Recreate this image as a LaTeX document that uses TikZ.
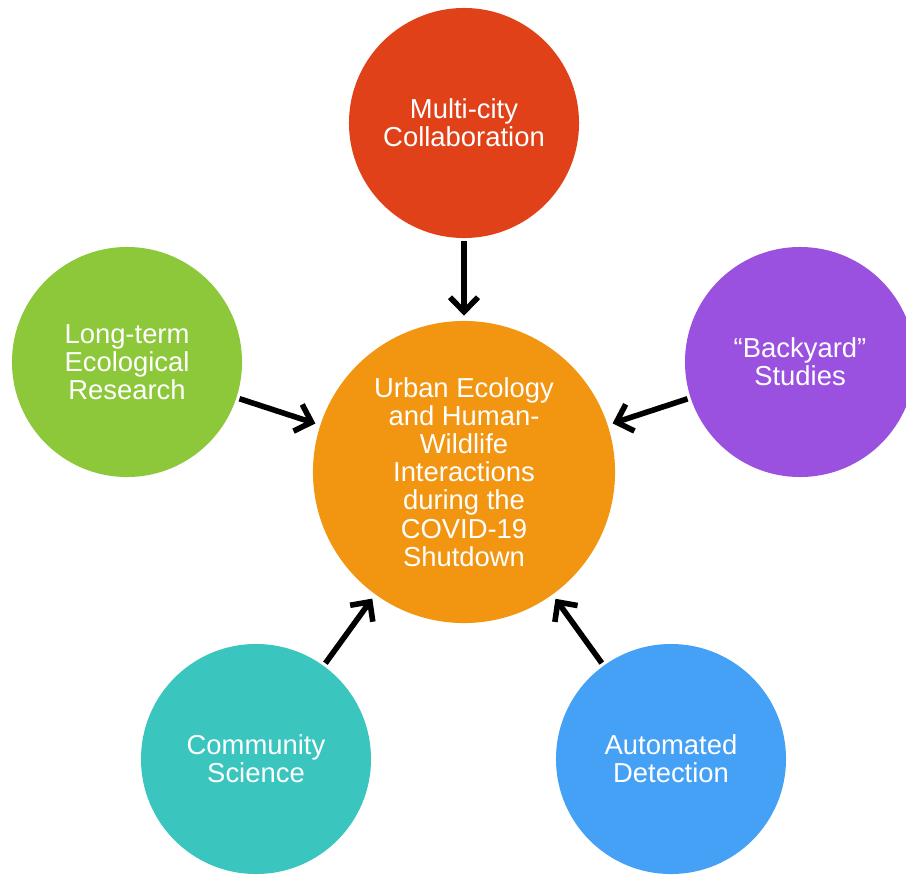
\documentclass[tikz,border=0pt]{standalone}
\usepackage{fontspec}
\setmainfont{Liberation Sans}
\usetikzlibrary{arrows.meta, positioning}
\definecolor{HubOrange}{HTML}{F29511}
\definecolor{CityRed}{HTML}{E04119}
\definecolor{LeafGreen}{HTML}{8CC83A}
\definecolor{YardPurple}{HTML}{9B51E0}
\definecolor{CommTeal}{HTML}{3AC5BE}
\definecolor{SkyBlue}{HTML}{45A1F5}

\begin{document}
\begin{tikzpicture}[
            x=0.025cm, y=-0.025cm,
            hub/.style={
                circle,
                fill=HubOrange,
                minimum size=7.55cm,
                inner sep=0pt,
                align=center,
                text=white,
                font=\fontsize{19.5}{20}\selectfont
            },
            topic/.style={
                hub,
                minimum size=5.75cm
            },
            feed/.style={
                -{Straight Barb[length=0.36cm, width=0.7cm]},
                line width=0.14cm,
                shorten <=0.075cm,
                shorten >=0.125cm
            }
        ]
            \clip (0,0) rectangle (906,875);

            \node[hub] (center) at (464,472) {Urban Ecology\\and Human-\\Wildlife\\Interactions\\during the\\COVID-19\\Shutdown};
            \node[topic, fill=CityRed] (multi) at (464,123) {Multi-city\\Collaboration};
            \node[topic, fill=LeafGreen] (longterm) at (127,362) {Long-term\\Ecological\\Research};
            \node[topic, fill=YardPurple] (backyard) at (800,362) {``Backyard''\\Studies};
            \node[topic, fill=CommTeal] (community) at (256,759) {Community\\Science};
            \node[topic, fill=SkyBlue] (detect) at (671,759) {Automated\\Detection};

            % Topics feeding the hub
            \draw[feed] (multi) -- (center);
            \draw[feed] (longterm) -- (center);
            \draw[feed] (backyard) -- (center);
            \draw[feed] (community) -- (center);
            \draw[feed] (detect) -- (center);
        \end{tikzpicture}
\end{document}
